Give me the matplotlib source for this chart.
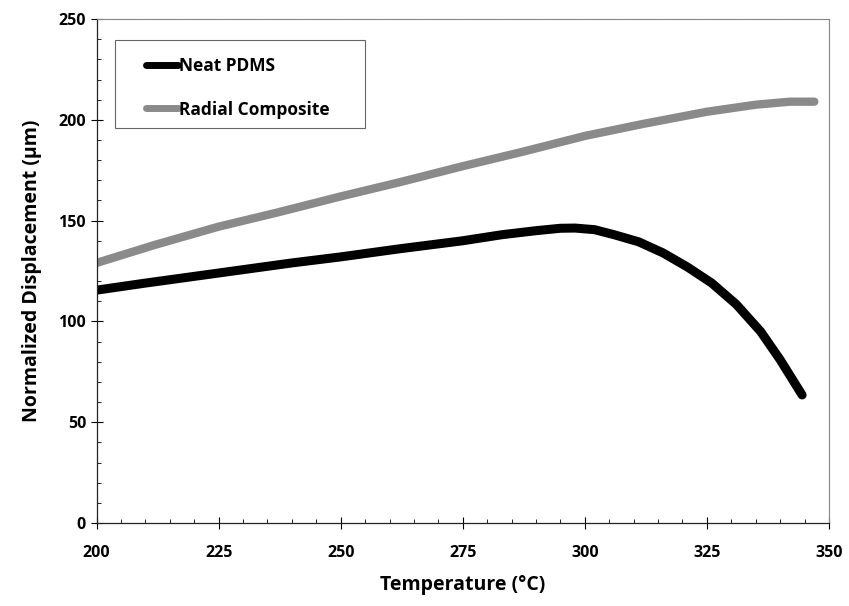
import numpy as np
import matplotlib.pyplot as plt
from matplotlib.ticker import MultipleLocator
from matplotlib.patches import Rectangle

# values
temp_neat = [200, 210, 225, 240, 250, 262, 275, 283, 290, 295, 298, 302, 306, 311, 316, 321, 326, 331, 336, 340, 344.5]
disp_neat = [115.5, 119, 124, 129, 132, 136, 140, 143, 145, 146.2, 146.3, 145.5, 143, 139.5, 134, 127, 119, 108.5, 95, 81, 63.5]

temp_rad = [200, 212, 225, 237, 250, 262, 275, 287, 300, 312, 325, 335, 342, 347]
disp_rad = [129, 138, 147, 154, 162, 169, 177, 184, 192, 198, 204, 207.5, 209, 209]

plt.rcParams['font.family'] = ['Open Sans', 'DejaVu Sans']

fig = plt.figure(figsize=(8.49, 6.06), dpi=100)
ax = fig.add_axes([0.1137, 0.137, 0.8627, 0.8316])

ax.plot(temp_neat, disp_neat, color='black', lw=6.5, solid_capstyle='round', solid_joinstyle='round',
        label='Neat PDMS')
ax.plot(temp_rad, disp_rad, color='#8a8a8a', lw=6, solid_capstyle='round', solid_joinstyle='round',
        label='Radial Composite')

ax.set_xlim(200, 350)
ax.set_ylim(0, 250)
ax.xaxis.set_major_locator(MultipleLocator(25))
ax.xaxis.set_minor_locator(MultipleLocator(5))
ax.yaxis.set_major_locator(MultipleLocator(50))
ax.yaxis.set_minor_locator(MultipleLocator(10))
ax.tick_params(which='major', direction='inout', length=8, width=0.8, labelsize=11.5)
ax.tick_params(which='minor', direction='in', length=3, width=0.6)
ax.tick_params(axis='x', pad=12)
for lbl in ax.get_xticklabels() + ax.get_yticklabels():
    lbl.set_fontweight('bold')

for s in ['left', 'bottom']:
    ax.spines[s].set_color('#222222')
    ax.spines[s].set_linewidth(0.9)
for s in ['top', 'right']:
    ax.spines[s].set_color('#888888')
    ax.spines[s].set_linewidth(0.8)
    ax.spines[s].set_linestyle((0, (1, 0.5)))

ax.set_xlabel('Temperature (°C)', fontsize=14, fontweight='bold', labelpad=10)
ax.set_ylabel('Normalized Displacement (µm)', fontsize=14, fontweight='bold', labelpad=12)

# legend box drawn separately so its padding can match the original
ax.add_patch(Rectangle((0.0253, 0.784), 0.341, 0.174, transform=ax.transAxes, fill=True,
                       facecolor='white', edgecolor='#666666', lw=0.8, zorder=4))
leg = ax.legend(loc='upper left', bbox_to_anchor=(0.068, 0.924), handlelength=1.8,
                handletextpad=0.1, borderpad=0, labelspacing=1.45, frameon=False,
                borderaxespad=0, prop={'weight': 'bold', 'size': 12.5})
leg.set_zorder(5)
for h in leg.legend_handles:
    h.set_linewidth(5)

fig.savefig('out.png', dpi=100)
